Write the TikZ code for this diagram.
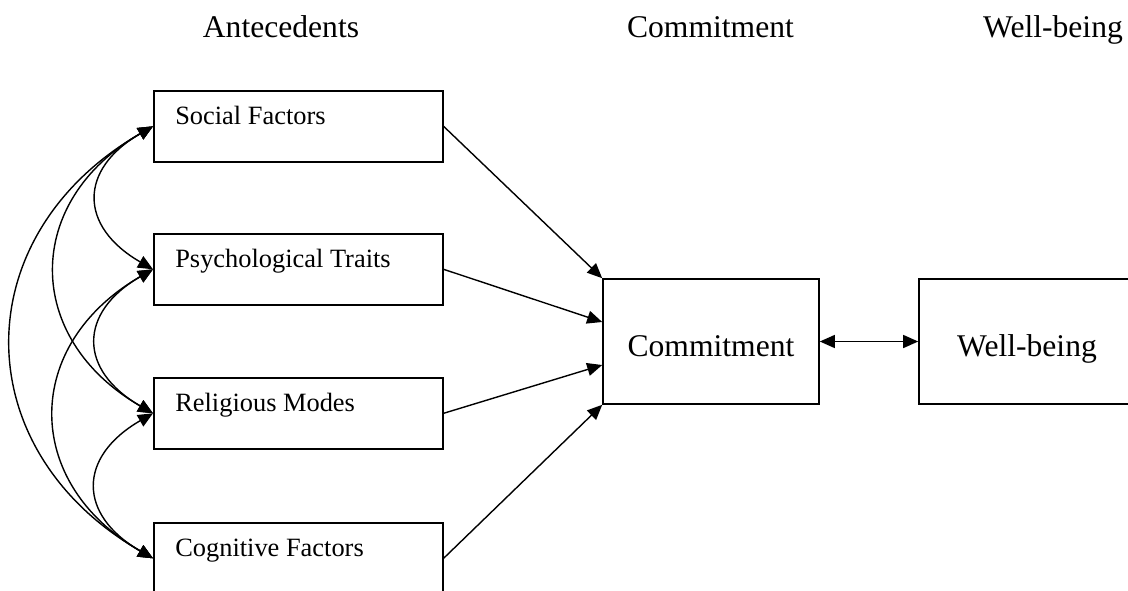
\documentclass[tikz,border=0pt]{standalone}
\usepackage{fontspec}
\setmainfont{Liberation Serif}
\usetikzlibrary{arrows.meta}

\begin{document}
\begin{tikzpicture}[x=0.5pt,y=0.5pt,
        >={Triangle[length=7.5pt,width=6.5pt]},
        factor/.style={shape=rectangle,draw=black,line width=0.8pt,anchor=north west,
            minimum width=144.5pt,minimum height=35.5pt,inner xsep=10.75pt,inner ysep=0pt,
            text width=123pt,text height=17pt,text depth=18.5pt,
            font=\fontsize{13.2}{15}\selectfont,
            execute at begin node={\spaceskip=0pt\xspaceskip=0pt\relax}},
        bigbox/.style={shape=rectangle,draw=black,line width=0.8pt,
            minimum width=108pt,minimum height=62.5pt,text height=22pt,text depth=7.5pt,
            font=\fontsize{15.8}{18}\selectfont},
        heading/.style={anchor=base,font=\fontsize{15.8}{18}\selectfont},
        link/.style={line width=0.7pt}]
        \useasboundingbox (0,0) rectangle (1128,-590);

        \node[heading] (hant) at (281,-37) {Antecedents};
        \node[heading] (hcom) at (710.5,-37) {Commitment};
        \node[heading] (hwel) at (1053,-37) {Well-being};

        \node[factor] (soc) at (153,-90) {Social Factors};
        \node[factor] (psy) at (153,-233) {Psychological Traits};
        \node[factor] (rel) at (153,-377) {Religious Modes};
        \node[factor] (cog) at (153,-522) {Cognitive Factors};

        \node[bigbox] (com) at (711,-341.5) {Commitment};
        \node[bigbox] (wel) at (1027,-341.5) {Well-being};

        \path [->,link](soc.east) edge (com.north west);
        \path [->,link](psy.east) edge ([yshift=9.75pt]com.west);
        \path [->,link](rel.east) edge ([yshift=-11.75pt]com.west);
        \path [->,link](cog.east) edge (com.south west);
        \path [<->,link](com.east) edge (wel.west);

        \path [<->,link](soc.west) edge[out=210,in=150,looseness=1.54] (psy.west);
        \path [<->,link](psy.west) edge[out=210,in=150,looseness=1.54] (rel.west);
        \path [<->,link](rel.west) edge[out=210,in=150,looseness=1.54] (cog.west);
        \path [<->,link](soc.west) edge[out=210,in=150,looseness=1.34] (rel.west);
        \path [<->,link](psy.west) edge[out=210,in=150,looseness=1.34] (cog.west);
        \path [<->,link](soc.west) edge[out=210,in=150,looseness=1.29] (cog.west);
    \end{tikzpicture}
\end{document}
